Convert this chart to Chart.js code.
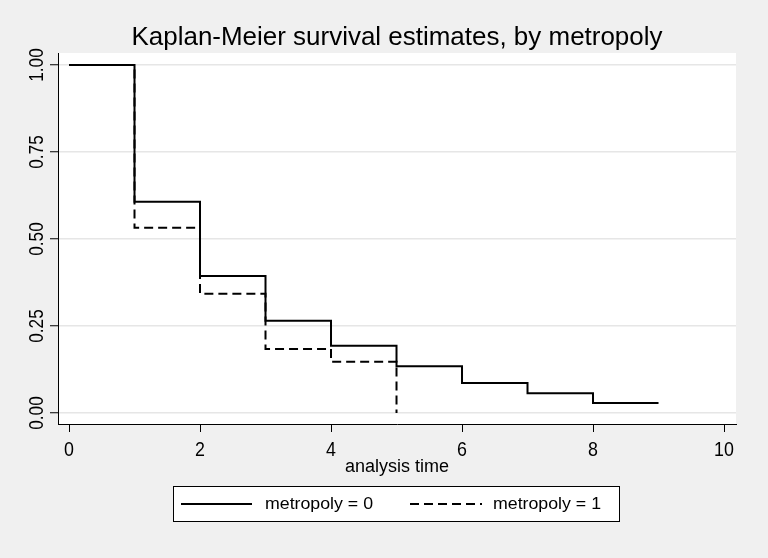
<!DOCTYPE html>
<html>
<head>
<meta charset="utf-8">
<script src="https://cdn.jsdelivr.net/npm/chart.js@4.4.1/dist/chart.umd.min.js"></script>
<style>
  html, body { margin: 0; padding: 0; background: #f0f0f0; }
  #wrap { width: 768px; height: 558px; }
</style>
</head>
<body>
<div id="wrap"><canvas id="km" width="768" height="558"></canvas></div>
<script>
// survival data
const time0 = [0, 1, 2, 3, 4, 5, 6, 7, 8, 9];
const surv0 = [1.0, 0.607, 0.394, 0.265, 0.193, 0.134, 0.086, 0.057, 0.029, 0.029];
const time1 = [0, 1, 2, 3, 4, 5];
const surv1 = [1.0, 0.532, 0.343, 0.184, 0.147, 0.0];
const seriesNames = ['metropoly = 0', 'metropoly = 1'];
const xTicks = [0, 2, 4, 6, 8, 10];
const yTicks = [0, 0.25, 0.5, 0.75, 1];

const FONT = '"Liberation Sans", Arial, sans-serif';

// draw text squeezed horizontally, Stata's Arial looks narrow
function drawText(ctx, text, x, y, size, opts) {
    opts = opts || {};
    ctx.save();
    ctx.font = size + 'px ' + FONT;
    let sx = opts.sx || 1;
    if (opts.width) sx = opts.width / ctx.measureText(text).width;
    ctx.translate(x, y);
    if (opts.rot) ctx.rotate(opts.rot);
    ctx.scale(sx, 1);
    ctx.fillStyle = '#000';
    ctx.textAlign = opts.align || 'center';
    ctx.textBaseline = 'alphabetic';
    ctx.fillText(text, 0, 0);
    ctx.restore();
}

const stataLook = {
    id: 'stataLook',
    beforeDraw(chart) {
        const { ctx, chartArea: a } = chart;
        ctx.save();
        ctx.fillStyle = '#f0f0f0';
        ctx.fillRect(0, 0, chart.width, chart.height);
        ctx.fillStyle = '#ffffff';
        ctx.fillRect(a.left, a.top, a.right - a.left, a.bottom - a.top);
        ctx.restore();
    },
    afterDraw(chart) {
        const { ctx } = chart;
        const xs = chart.scales.x, ys = chart.scales.y;

        drawText(ctx, 'Kaplan-Meier survival estimates, by metropoly', 397, 45, 25, { width: 531 });

        xTicks.forEach(v => {
            drawText(ctx, String(v), xs.getPixelForValue(v), 456, 21, { sx: 0.85 });
        });
        yTicks.forEach(v => {
            drawText(ctx, v.toFixed(2), 43, ys.getPixelForValue(v), 21, { sx: 0.82, rot: -Math.PI / 2 });
        });

        drawText(ctx, 'analysis time', 397, 472, 18, { width: 104 });

        // legend box
        ctx.save();
        ctx.fillStyle = '#ffffff';
        ctx.fillRect(173.5, 486.5, 446, 35);
        ctx.strokeStyle = '#000';
        ctx.lineWidth = 1;
        ctx.strokeRect(173.5, 486.5, 446, 35);
        const ds = chart.data.datasets;
        [[181, 252], [410, 482]].forEach((p, i) => {
            ctx.beginPath();
            ctx.lineWidth = ds[i].borderWidth;
            ctx.strokeStyle = ds[i].borderColor;
            ctx.setLineDash(ds[i].borderDash || []);
            ctx.moveTo(p[0], 504);
            ctx.lineTo(p[1], 504);
            ctx.stroke();
        });
        ctx.restore();
        drawText(ctx, seriesNames[0], 265, 509, 16, { width: 108, align: 'left' });
        drawText(ctx, seriesNames[1], 493, 509, 16, { width: 108, align: 'left' });
    }
};

const toPoints = (t, s) => t.map((v, i) => ({ x: v, y: s[i] }));

new Chart(document.getElementById('km'), {
    type: 'scatter',
    data: {
        datasets: [{
            label: seriesNames[0],
            data: toPoints(time0, surv0),
            showLine: true,
            stepped: 'before',
            borderColor: '#000',
            borderWidth: 2,
            pointRadius: 0
        }, {
            label: seriesNames[1],
            data: toPoints(time1, surv1),
            showLine: true,
            stepped: 'before',
            borderColor: '#000',
            borderWidth: 2,
            borderDash: [9, 5],
            pointRadius: 0
        }]
    },
    options: {
        responsive: false,
        animation: false,
        layout: { padding: { top: 53, right: 32, bottom: 0, left: 0 } },
        plugins: {
            legend: { display: false },
            tooltip: { enabled: false },
            title: { display: false }
        },
        scales: {
            x: {
                type: 'linear',
                min: -0.168,
                max: 10.183,
                afterBuildTicks: s => { s.ticks = xTicks.map(v => ({ value: v })); },
                afterFit: s => { s.height = 134; },
                ticks: { display: false },
                grid: { drawOnChartArea: false, drawTicks: true, tickLength: 8, tickColor: '#000', tickWidth: 1 },
                border: { display: true, color: '#000', width: 1 }
            },
            y: {
                type: 'linear',
                min: -0.0316,
                max: 1.0345,
                afterBuildTicks: s => { s.ticks = yTicks.map(v => ({ value: v })); },
                afterFit: s => { s.width = 58; },
                ticks: { display: false },
                grid: { color: '#e6e6e6', lineWidth: 1.5, drawTicks: true, tickLength: 8, tickColor: '#000', tickWidth: 1 },
                border: { display: true, color: '#000', width: 1 }
            }
        }
    },
    plugins: [stataLook]
});
</script>
</body>
</html>
